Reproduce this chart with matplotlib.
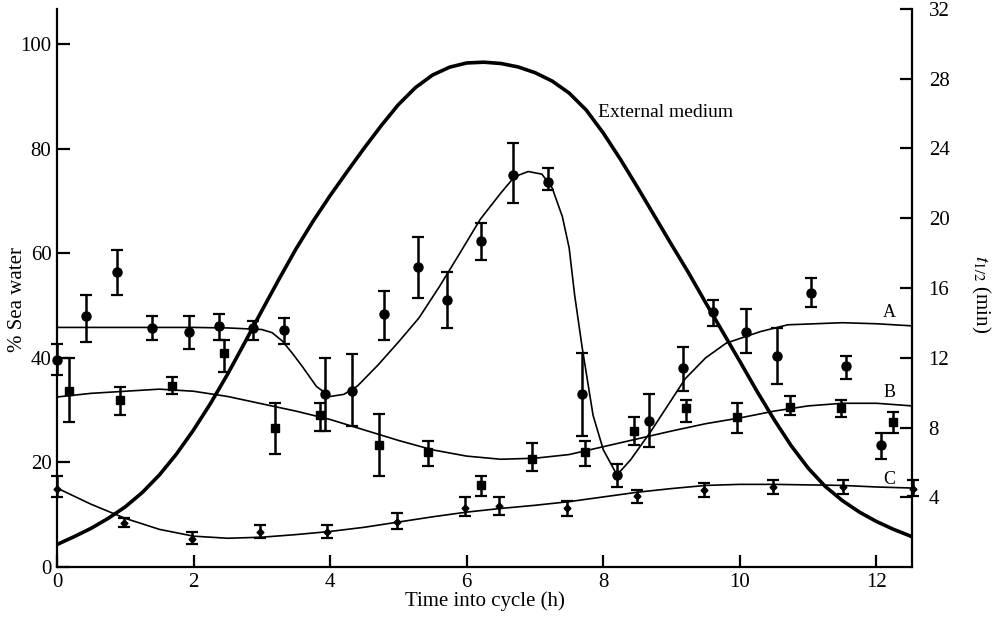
import matplotlib
matplotlib.use("Agg")
import matplotlib.pyplot as plt

plt.rcParams['font.family'] = ['Liberation Serif', 'DejaVu Serif']
plt.rcParams['mathtext.fontset'] = 'stix'

# ---- External medium (% sea water, left axis) ----
ext_x = [0, 0.25, 0.5, 0.75, 1.0, 1.25, 1.5, 1.75, 2.0, 2.25, 2.5, 2.75, 3.0, 3.25, 3.5, 3.75,
         4.0, 4.25, 4.5, 4.75, 5.0, 5.25, 5.5, 5.75, 6.0, 6.25, 6.5, 6.75, 7.0, 7.25, 7.5, 7.75,
         8.0, 8.25, 8.5, 8.75, 9.0, 9.25, 9.5, 9.75, 10.0, 10.25, 10.5, 10.75, 11.0, 11.25, 11.5,
         11.75, 12.0, 12.25, 12.52]
ext_y = [4.3, 5.8, 7.4, 9.3, 11.5, 14.25, 17.6, 21.6, 26.2, 31.3, 36.9, 42.9, 49.0, 55.0, 60.8,
         66.1, 71.0, 75.6, 80.1, 84.4, 88.4, 91.65, 94.05, 95.55, 96.35, 96.5, 96.25, 95.6, 94.5,
         92.9, 90.6, 87.35, 82.95, 77.95, 72.6, 67.1, 61.6, 56.2, 50.5, 44.9, 39.3, 33.6, 28.2,
         23.2, 18.9, 15.4, 12.7, 10.5, 8.7, 7.2, 5.8]

# ---- Fitted curves (t1/2, min, right axis) ----
A_cx = [0, 1, 2, 2.5, 3.0, 3.15, 3.3, 3.45, 3.6, 3.8, 4.0, 4.2, 4.4, 4.7, 5.0, 5.3, 5.6, 5.9,
        6.2, 6.5, 6.7, 6.9, 7.1, 7.25, 7.4, 7.5, 7.58, 7.69, 7.85, 8.0, 8.2, 8.4, 8.7, 8.95,
        9.2, 9.5, 9.8, 10.3, 10.7, 11.5, 12.0, 12.52]
A_cy = [13.74, 13.74, 13.74, 13.71, 13.62, 13.44, 12.96, 12.24, 11.46, 10.35, 9.78, 9.9, 10.38,
        11.58, 12.9, 14.28, 16.08, 18.0, 19.95, 21.45, 22.38, 22.68, 22.53, 21.75, 20.1, 18.3,
        15.6, 12.6, 8.7, 6.72, 5.28, 6.15, 7.8, 9.3, 10.8, 12.0, 12.84, 13.5, 13.89, 14.01,
        13.95, 13.83]

B_cx = [0, 0.5, 1.0, 1.5, 2.0, 2.5, 3.0, 3.5, 4.0, 4.5, 5.0, 5.5, 6.0, 6.5, 7.0, 7.5, 8.0,
        8.5, 9.0, 9.5, 10.0, 10.5, 11.0, 11.5, 12.0, 12.52]
B_cy = [9.75, 9.96, 10.08, 10.2, 10.08, 9.78, 9.36, 8.94, 8.46, 7.86, 7.26, 6.72, 6.36, 6.18,
        6.24, 6.45, 6.9, 7.35, 7.8, 8.22, 8.55, 8.94, 9.24, 9.39, 9.39, 9.24]

C_cx = B_cx
C_cy = [4.53, 3.6, 2.79, 2.16, 1.77, 1.65, 1.71, 1.86, 2.04, 2.28, 2.58, 2.88, 3.15, 3.36, 3.54,
        3.75, 4.02, 4.29, 4.5, 4.68, 4.74, 4.74, 4.71, 4.68, 4.59, 4.53]

# ---- Measured points (t1/2, min) ----
A_x = [0.0, 0.42, 0.88, 1.39, 1.93, 2.37, 2.87, 3.32, 3.92, 4.32, 4.79, 5.29, 5.71, 6.21, 6.68,
       7.19, 7.69, 8.2, 8.67, 9.16, 9.61, 10.09, 10.54, 11.04, 11.55, 12.06]
A_y = [11.9, 14.4, 16.9, 13.7, 13.5, 13.8, 13.7, 13.6, 9.9, 10.1, 14.5, 17.2, 15.3, 18.7, 22.5,
       22.1, 9.9, 5.3, 8.4, 11.4, 14.6, 13.5, 12.1, 15.7, 11.5, 7.0]
A_lo = [11.0, 12.9, 15.6, 13.0, 12.5, 13.0, 13.0, 12.8, 7.8, 8.1, 13.0, 15.4, 13.7, 17.6, 20.9,
        21.6, 7.5, 4.6, 6.9, 10.1, 13.8, 12.3, 10.5, 14.9, 10.8, 6.2]
A_hi = [12.8, 15.6, 18.2, 14.4, 14.4, 14.5, 14.1, 14.3, 12.0, 12.2, 15.8, 18.9, 16.9, 19.7, 24.3,
        22.9, 12.3, 5.9, 9.9, 12.6, 15.3, 14.8, 13.7, 16.6, 12.1, 7.7]

B_x = [0.18, 0.93, 1.68, 2.45, 3.19, 3.85, 4.71, 5.43, 6.21, 6.95, 7.73, 8.45, 9.21, 9.96,
       10.73, 11.48, 12.24]
B_y = [10.1, 9.6, 10.4, 12.3, 8.0, 8.7, 7.0, 6.6, 4.7, 6.2, 6.6, 7.8, 9.1, 8.6, 9.2, 9.1, 8.3]
B_lo = [8.3, 8.7, 9.9, 11.2, 6.5, 7.8, 5.2, 5.8, 4.1, 5.5, 5.8, 7.0, 8.3, 7.7, 8.7, 8.6, 7.7]
B_hi = [12.0, 10.3, 10.9, 13.0, 9.4, 9.4, 8.8, 7.2, 5.2, 7.1, 7.2, 8.6, 9.6, 9.4, 9.8, 9.6, 8.9]

C_x = [0.0, 0.98, 1.98, 2.97, 3.95, 4.98, 5.97, 6.47, 7.47, 8.49, 9.47, 10.48, 11.51, 12.53]
C_y = [4.5, 2.5, 1.6, 2.0, 2.0, 2.6, 3.4, 3.5, 3.4, 4.1, 4.4, 4.6, 4.6, 4.5]
C_lo = [4.0, 2.3, 1.3, 1.65, 1.65, 2.2, 2.9, 3.0, 2.9, 3.7, 4.0, 4.2, 4.2, 4.1]
C_hi = [5.2, 2.8, 2.0, 2.4, 2.4, 3.1, 4.0, 4.0, 3.8, 4.4, 4.8, 5.0, 5.0, 5.0]

left_ticks = [0, 20, 40, 60, 80, 100]
right_ticks = [4, 8, 12, 16, 20, 24, 28, 32]
x_ticks = [0, 2, 4, 6, 8, 10, 12]

fig = plt.figure(figsize=(9.94, 6.24), dpi=100)
ax = fig.add_axes([0.0573, 0.0913, 0.8602, 0.8943])
ax2 = ax.twinx()

ax.set_xlim(0, 12.52)
ax.set_ylim(0, 106.67)
ax2.set_ylim(0, 32)

k = 'black'
ax.plot(ext_x, ext_y, color=k, lw=2.6, solid_capstyle='round', solid_joinstyle='round')
ax.text(7.92, 86.8, 'External medium', fontsize=14, va='center', ha='left')

for cx, cy in ((A_cx, A_cy), (B_cx, B_cy), (C_cx, C_cy)):
    ax2.plot(cx, cy, color=k, lw=1.2, solid_joinstyle='round')

def eb(x, y, lo, hi, marker, ms):
    yerr = [[yy - l for yy, l in zip(y, lo)], [h - yy for yy, h in zip(y, hi)]]
    ax2.errorbar(x, y, yerr=yerr, fmt=marker, color=k, ms=ms, elinewidth=1.8,
                 capsize=4.5, capthick=1.6, clip_on=False, zorder=5)

eb(A_x, A_y, A_lo, A_hi, 'o', 6.5)
eb(B_x, B_y, B_lo, B_hi, 's', 6.0)
eb(C_x, C_y, C_lo, C_hi, 'D', 3.5)

ax2.text(12.1, 14.6, 'A', fontsize=13, va='center', ha='left')
ax2.text(12.1, 10.0, 'B', fontsize=13, va='center', ha='left')
ax2.text(12.1, 5.0, 'C', fontsize=13, va='center', ha='left')

for a in (ax, ax2):
    a.spines['top'].set_visible(False)
    for s in a.spines.values():
        s.set_linewidth(1.6)
ax.spines['right'].set_visible(False)
ax2.spines['left'].set_visible(False)
ax2.spines['bottom'].set_visible(False)

ax.set_xticks(x_ticks)
ax.set_yticks(left_ticks)
ax2.set_yticks(right_ticks)
ax.tick_params(direction='in', length=9, width=1.6, labelsize=15, pad=4)
ax2.tick_params(direction='in', length=9, width=1.6, labelsize=15, pad=12)

ax.set_xlabel('Time into cycle (h)', fontsize=15, labelpad=0)
ax.set_ylabel('% Sea water', fontsize=15)
ax.yaxis.set_label_coords(-0.035, 0.48)
ax2.set_ylabel('$t_{1/2}$ (min)', fontsize=15, rotation=270, va='center')
ax2.yaxis.set_label_coords(1.08, 0.49)

fig.savefig('out.png', dpi=100)
